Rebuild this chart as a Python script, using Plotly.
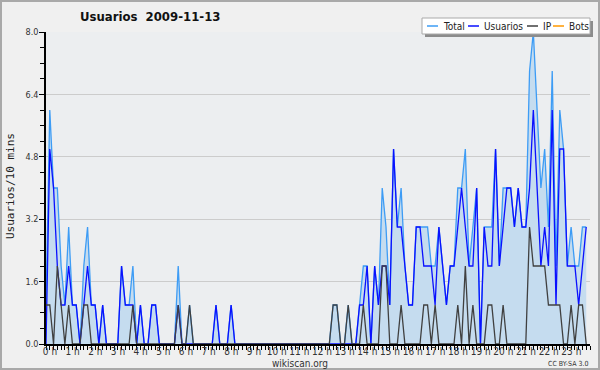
import plotly.graph_objects as go

# ---- data (10-minute intervals, 144 per day) ----
total = [1, 6, 4, 4, 2, 1, 3, 1, 1, 0, 2, 3, 1, 1, 0, 1, 0, 0, 0, 0,
         2, 1, 1, 2, 0, 1, 0, 0, 1, 1, 0, 0, 0, 0, 0, 2, 0, 0, 1, 0,
         0, 0, 0, 0, 0, 1, 0, 0, 0, 1, 0, 0, 0, 0, 0, 0, 0, 0, 0, 0,
         0, 0, 0, 0, 0, 0, 0, 0, 0, 0, 0, 0, 0, 0, 0, 0, 1, 1, 0, 0,
         1, 0, 0, 1, 2, 2, 0, 2, 1, 4, 3, 1, 5, 3, 4, 2, 1, 1, 3, 3,
         3, 3, 2, 2, 3, 2, 1, 2, 2, 4, 4, 5, 2, 3, 4, 0, 3, 3, 3, 5,
         2, 4, 4, 4, 3, 4, 3, 3, 7, 8, 6, 4, 5, 3, 7, 2, 6, 5, 2, 3,
         2, 2, 3, 3]
usuarios = [0, 5, 4, 2, 1, 1, 2, 1, 1, 0, 1, 2, 1, 1, 0, 1, 0, 0, 0, 0,
            2, 1, 1, 1, 0, 1, 0, 0, 1, 1, 0, 0, 0, 0, 0, 1, 0, 0, 0, 0,
            0, 0, 0, 0, 0, 1, 0, 0, 0, 1, 0, 0, 0, 0, 0, 0, 0, 0, 0, 0,
            0, 0, 0, 0, 0, 0, 0, 0, 0, 0, 0, 0, 0, 0, 0, 0, 0, 0, 0, 0,
            0, 0, 0, 1, 1, 2, 0, 2, 1, 2, 2, 1, 5, 3, 3, 2, 1, 1, 3, 3,
            2, 2, 2, 1, 3, 2, 1, 2, 2, 3, 4, 3, 2, 2, 4, 0, 3, 2, 2, 5,
            2, 3, 4, 4, 3, 4, 3, 3, 4, 6, 4, 2, 3, 2, 6, 1, 5, 5, 2, 2,
            2, 1, 2, 3]
ip = [1, 1, 0, 2, 1, 0, 1, 0, 0, 0, 1, 1, 0, 0, 0, 0, 0, 0, 0, 0,
      0, 0, 0, 1, 0, 0, 0, 0, 0, 0, 0, 0, 0, 0, 0, 1, 0, 0, 1, 0,
      0, 0, 0, 0, 0, 0, 0, 0, 0, 0, 0, 0, 0, 0, 0, 0, 0, 0, 0, 0,
      0, 0, 0, 0, 0, 0, 0, 0, 0, 0, 0, 0, 0, 0, 0, 0, 1, 1, 0, 0,
      1, 0, 0, 0, 1, 0, 0, 0, 0, 2, 2, 0, 0, 0, 1, 0, 0, 0, 0, 0,
      1, 1, 0, 1, 0, 0, 0, 0, 0, 1, 0, 2, 0, 1, 0, 0, 0, 1, 1, 0,
      0, 1, 0, 0, 0, 0, 0, 0, 3, 2, 2, 2, 2, 1, 1, 1, 1, 0, 0, 1,
      0, 1, 1, 0]
bots = [0] * 144

hours = list(range(24))
hour_labels = [f"{h} h" for h in hours]
y_ticks = [0.0, 1.6, 3.2, 4.8, 6.4, 8.0]
y_labels = ["0.0", "1.6", "3.2", "4.8", "6.4", "8.0"]

x = list(range(len(total)))  # index of 10-minute slot

# ---- pixel geometry helpers ----
W, H = 600, 370
L, R, T, B = 46, 590, 32, 344


def px(xp):
    return (xp - L) / (R - L)


def py(yp):
    return (B - yp) / (B - T)


FONT = "DejaVu Sans Condensed, Liberation Sans Narrow, DejaVu Sans, sans-serif"

fig = go.Figure()
fig.add_trace(go.Scatter(x=x, y=total, mode="lines", name="Total",
                         line=dict(color="#3d9cf5", width=1.3),
                         fill="tozeroy", fillcolor="#c5dcef"))
fig.add_trace(go.Scatter(x=x, y=usuarios, mode="lines", name="Usuarios",
                         line=dict(color="#0a10ff", width=1.3)))
fig.add_trace(go.Scatter(x=x, y=ip, mode="lines", name="IP",
                         line=dict(color="#404040", width=1.3)))
fig.add_trace(go.Scatter(x=x, y=bots, mode="lines", name="Bots",
                         line=dict(color="#ff9900", width=1.3), visible="legendonly"))

fig.update_layout(
    width=W, height=H,
    margin=dict(l=L, r=W - R, t=T, b=H - B, pad=0, autoexpand=False),
    paper_bgcolor="#f0f0f0",
    plot_bgcolor="#eceef0",
    showlegend=False,
    font=dict(family=FONT, size=10, color="#222"),
    xaxis=dict(
        range=[0, 144], tickmode="array", automargin=False,
        tickvals=[h * 6 for h in hours], ticktext=hour_labels,
        ticks="outside", ticklen=4, tickcolor="#000", tickwidth=1,
        showline=True, linecolor="#000", linewidth=1.5,
        showgrid=False, zeroline=False,
        tickfont=dict(size=10, family=FONT, color="#333"),
        ticklabelshift=4, ticklabelstandoff=-7,
        minor=dict(dtick=1, ticks="outside", ticklen=4, tickcolor="#000", showgrid=False),
    ),
    yaxis=dict(
        range=[0, 8], tickmode="array", tickvals=y_ticks, ticktext=y_labels,
        automargin=False,
        ticks="outside", ticklen=5, tickcolor="#000", tickwidth=1,
        showline=True, linecolor="#000", linewidth=1.5,
        showgrid=True, gridcolor="#cccccc", gridwidth=1, zeroline=False,
        tickfont=dict(size=9, family=FONT, color="#333"),
        ticklabelstandoff=-1,
        minor=dict(dtick=0.4, ticks="outside", ticklen=4, tickcolor="#000", showgrid=False),
    ),
)

# title
fig.add_annotation(text="<b>Usuarios  2009-11-13</b>", xref="paper", yref="paper",
                   x=px(78), y=py(17), xanchor="left", yanchor="middle",
                   showarrow=False, font=dict(size=13, family=FONT, color="#111"))
# y axis title
fig.add_annotation(text="Usuarios/10 mins", xref="paper", yref="paper",
                   x=px(10), y=py(186), textangle=-90, xanchor="center", yanchor="middle",
                   showarrow=False, font=dict(size=11, family="DejaVu Sans Mono", color="#222"))
# footer
fig.add_annotation(text="wikiscan.org", xref="paper", yref="paper",
                   x=px(300), y=py(363), xanchor="center", yanchor="middle",
                   showarrow=False, font=dict(size=10, family=FONT, color="#333"))
fig.add_annotation(text="CC BY-SA 3.0", xref="paper", yref="paper",
                   x=px(590), y=py(364), xanchor="right", yanchor="middle",
                   showarrow=False, font=dict(size=7, family=FONT, color="#333"))

# legend (manual)
fig.add_shape(type="rect", xref="paper", yref="paper", x0=px(425), x1=px(593),
              y0=py(37), y1=py(21), fillcolor="#8c8c8c", line=dict(width=0), layer="above")
fig.add_shape(type="rect", xref="paper", yref="paper", x0=px(422), x1=px(590),
              y0=py(34), y1=py(18), fillcolor="#ffffff", line=dict(color="#aaaaaa", width=1), layer="above")
legend_items = [("Total", "#3d9cf5", 427, 441), ("Usuarios", "#0a10ff", 468, 482),
                ("IP", "#404040", 527, 541), ("Bots", "#ff9900", 553, 567)]
for name, col, lx, tx in legend_items:
    fig.add_shape(type="line", xref="paper", yref="paper", x0=px(lx), x1=px(lx + 11),
                  y0=py(26), y1=py(26), line=dict(color=col, width=1.5), layer="above")
    fig.add_annotation(text=name, xref="paper", yref="paper", x=px(tx), y=py(26),
                       xanchor="left", yanchor="middle", showarrow=False,
                       font=dict(size=10, family=FONT, color="#222"))

# outer border
fig.add_shape(type="rect", xref="paper", yref="paper", x0=px(1), x1=px(599),
              y0=py(369), y1=py(1), line=dict(color="#a9a9a9", width=2), layer="above")

fig.write_html("out.html")
